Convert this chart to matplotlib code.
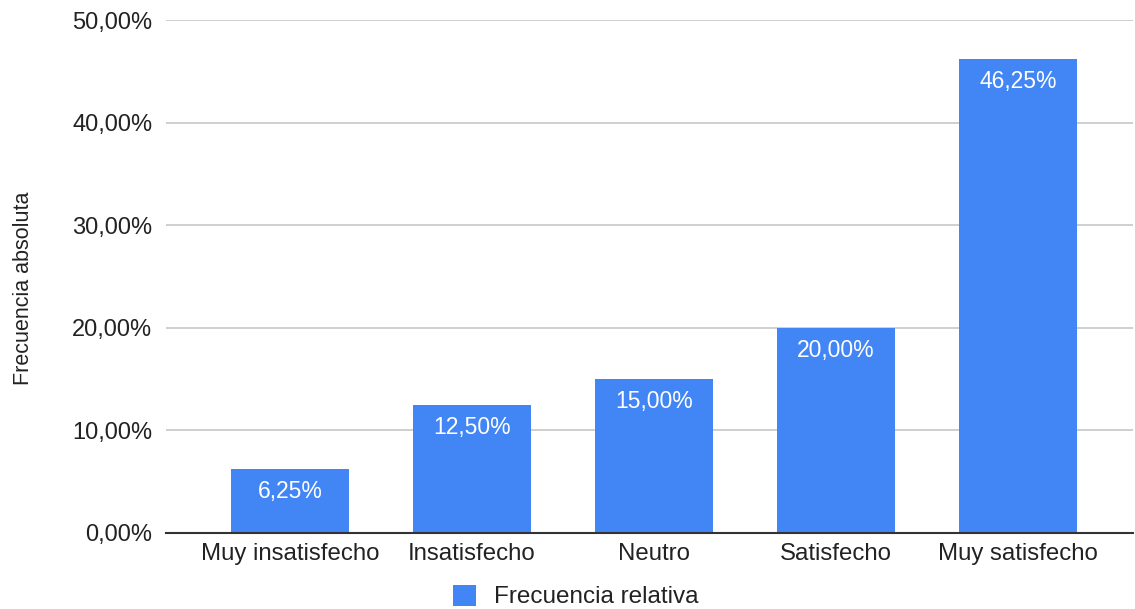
import matplotlib
matplotlib.use("Agg")
import matplotlib.pyplot as plt
from matplotlib.ticker import FuncFormatter, MultipleLocator

plt.rcParams['font.family'] = ['Liberation Sans', 'DejaVu Sans']

categories = ["Muy insatisfecho", "Insatisfecho", "Neutro", "Satisfecho", "Muy satisfecho"]
values = [6.25, 12.50, 15.00, 20.00, 46.25]
series_name = "Frecuencia relativa"
y_label = "Frecuencia absoluta"

bar_color = "#4285F4"

fig = plt.figure(figsize=(11.35, 6.09), dpi=100)
ax = fig.add_axes([0.1463, 0.1248, 0.852, 0.842])

x = list(range(len(categories)))
bars = ax.bar(x, values, width=0.65, color=bar_color, label=series_name, zorder=3)

def pct(v):
    return f"{v:.2f}".replace(".", ",") + "%"

for b, v in zip(bars, values):
    ax.annotate(pct(v), xy=(b.get_x() + b.get_width() / 2, v),
                xytext=(0, -8), textcoords="offset points",
                ha="center", va="top", color="white", fontsize=16.5, zorder=4)

ax.set_ylim(0, 50)
ax.set_xlim(-0.681, 4.632)
ax.yaxis.set_major_locator(MultipleLocator(10))
ax.yaxis.set_major_formatter(FuncFormatter(lambda v, p: pct(v)))
ax.grid(axis="y", color="#cccccc", linewidth=1.3, zorder=0)
ax.set_axisbelow(True)

ax.set_xticks(x)
ax.set_xticklabels(categories)
ax.tick_params(axis="x", length=0, pad=7, labelsize=17.3, labelcolor="#222222")
ax.tick_params(axis="y", length=0, pad=10, labelsize=17, labelcolor="#222222")

for side in ("top", "right", "left"):
    ax.spines[side].set_visible(False)
ax.spines["bottom"].set_color("#333333")
ax.spines["bottom"].set_linewidth(1.5)
ax.spines["bottom"].set_zorder(5)

fig.text(0.0205, 0.527, y_label, rotation=90, ha="center", va="center",
         fontsize=15.5, color="#222222")

leg = fig.legend(handles=[bars], labels=[series_name], loc="lower center",
                 bbox_to_anchor=(0.5075, -0.035), frameon=False, fontsize=17.5,
                 handlelength=0.95, handleheight=0.95, handletextpad=0.75)
for t in leg.get_texts():
    t.set_color("#222222")

fig.savefig("out.png", dpi=100)
